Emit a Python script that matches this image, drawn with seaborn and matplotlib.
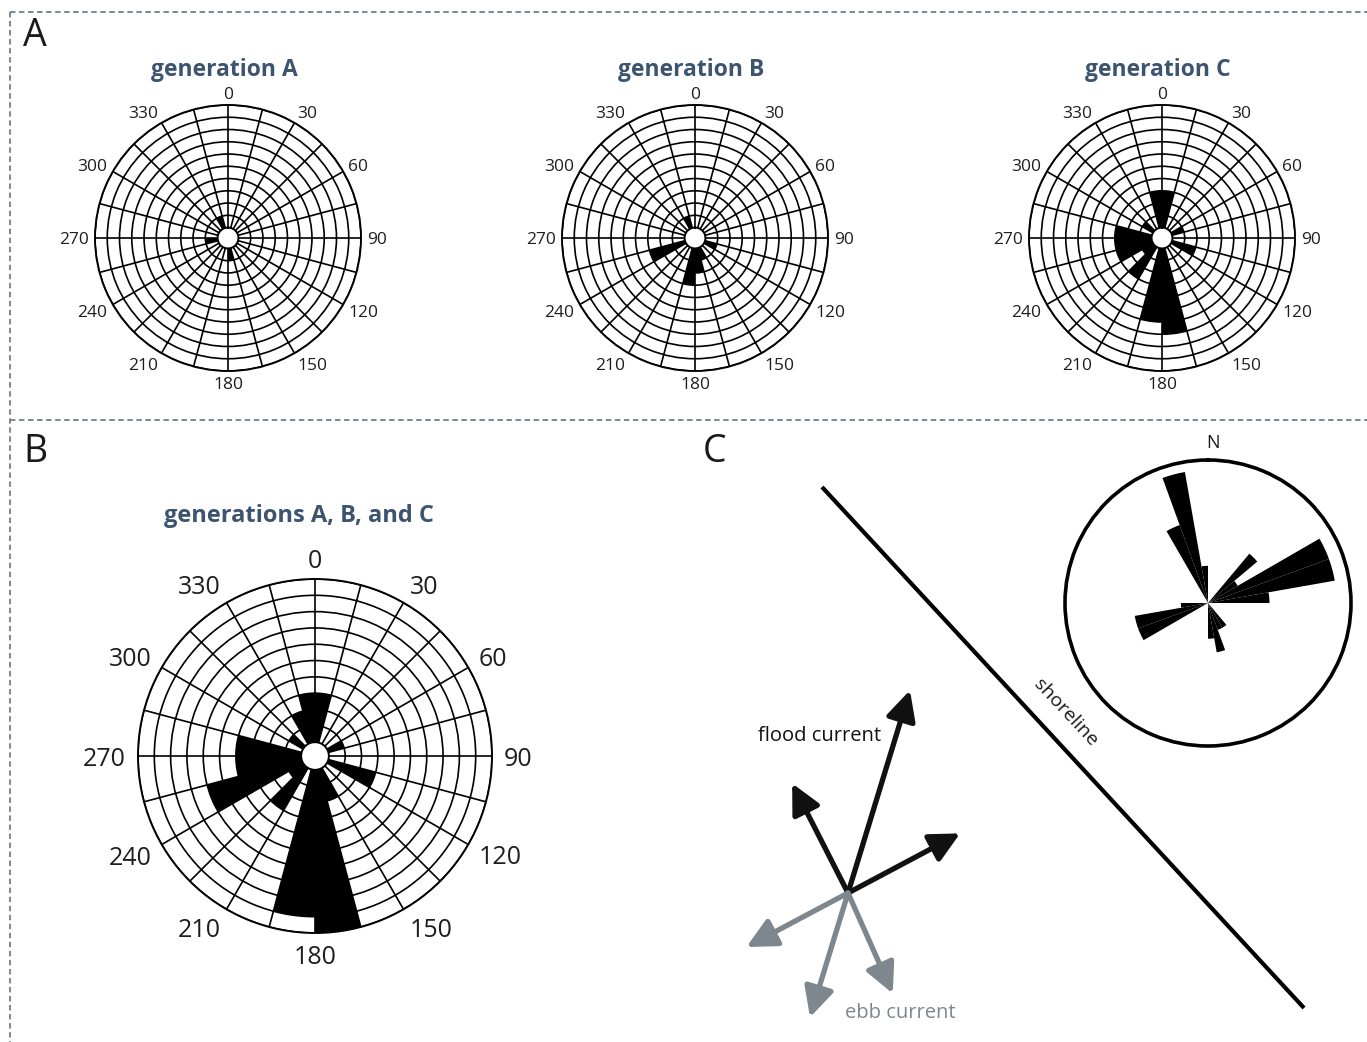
import numpy as np
import matplotlib.pyplot as plt
import seaborn as sns

sns.set_theme(style="white")
plt.rcParams['font.family'] = ['Open Sans', 'DejaVu Sans']

W, H = 1367, 1042

# %% data: 15-degree bins (start angle of each bin), counts per bin
bin_start = np.arange(0, 360, 15)
#          0  15 30 45 60 75 90 105 120 135 150 165 180 195 210 225 240 255 270 285 300 315 330 345
gen_a   = [0, 0, 0, 0, 0, 0, 0, 0,  0,  0,  0,  1,  0,  0,  0,  0,  0,  1,  0,  0,  0,  0,  1,  0]
gen_b   = [0, 0, 0, 0, 0, 0, 0, 1,  0,  0,  1,  2,  3,  0,  0,  0,  3,  0,  0,  0,  0,  0,  1,  0]
gen_c   = [3, 0, 0, 0, 1, 0, 0, 2,  0,  0,  0,  7,  6,  0,  3,  1,  3,  3,  3,  0,  1,  0,  0,  3]
gen_all = [3, 0, 0, 0, 1, 0, 0, 3,  0,  0,  2, 10,  9,  0,  3,  1,  6,  4,  4,  0,  1,  0,  2,  3]
deg_labels = np.arange(0, 360, 30)

# panel C rose: 10-degree bins, relative length
bin10 = np.arange(0, 360, 10)
rose_c = np.zeros(36)
rose_c[[4, 5, 6, 7, 8]] = [0.45, 0.24, 0.90, 0.90, 0.43]
rose_c[[14, 15, 16, 17]] = [0.20, 0.20, 0.35, 0.25]
rose_c[[24, 25, 26]] = [0.52, 0.52, 0.19]
rose_c[[33, 34, 35]] = [0.58, 0.93, 0.26]

# current directions (azimuth, length in px)
flood_az = [17, 333, 62]
flood_len = [212, 123, 127]
ebb_az = [242, 197, 156]
ebb_len = [115, 130, 110]
arrow_origin = (848, 893)
shoreline_x = [822, 1304]
shoreline_y = [487, 1008]

HOLE = 0.85
title_col = '#3d5470'
dash_col = '#6f7f90'


def place(cx, cy, r):
    return [(cx - r) / W, (H - cy - r) / H, 2 * r / W, 2 * r / H]


def rose(ax, counts):
    ax.set_theta_zero_location('N')
    ax.set_theta_direction(-1)
    ax.bar(np.deg2rad(bin_start + 7.5), counts, width=np.deg2rad(15),
           bottom=0, color='black', linewidth=0, zorder=3)
    ax.set_ylim(0, 10)
    ax.set_rorigin(-HOLE)
    ax.set_yticks(np.arange(1, 11))
    ax.set_yticklabels([])
    ax.set_xticks(np.deg2rad(bin_start))
    ax.set_xticklabels([])
    ax.grid(True, color='black', lw=1.2)
    for s in ax.spines.values():
        s.set_color('black')
        s.set_linewidth(1.4)
    ax.set_facecolor('white')


def degree_labels(cx, cy, r, gap, size, dy):
    h = size * 100 / 72 * 0.72
    for a in deg_labels:
        s, c = np.sin(np.deg2rad(a)), np.cos(np.deg2rad(a))
        x = cx + (r + gap) * s
        y = cy - (r + gap) * c - h / 2 * c + dy
        ha = 'left' if s > 0.1 else ('right' if s < -0.1 else 'center')
        ov.text(x, y, str(a), fontsize=size, ha=ha, va='center', color='#1e1e1e')


fig = plt.figure(figsize=(W / 100, H / 100), dpi=100)
fig.patch.set_facecolor('white')

# overlay axes in pixel coordinates
ov = fig.add_axes([0, 0, 1, 1])
ov.set_xlim(0, W)
ov.set_ylim(H, 0)
ov.axis('off')

# dashed frame
ov.plot([10, W], [12, 12], ls=(0, (3, 2)), color=dash_col, lw=1.3)
ov.plot([10, W], [420, 420], ls=(0, (3, 2)), color=dash_col, lw=1.3)
ov.plot([10, 10], [12, H], ls=(0, (3, 2)), color=dash_col, lw=1.3)

# panel letters
for letter, x, y in [('A', 35, 36), ('B', 35, 452), ('C', 715, 452)]:
    ov.text(x, y, letter, fontsize=27, ha='center', va='center', color='#1a1a1a')

# panel A roses
for counts, cx, name in [(gen_a, 228, 'generation A'), (gen_b, 695, 'generation B'),
                         (gen_c, 1162, 'generation C')]:
    ax = fig.add_axes(place(cx, 238, 133), projection='polar')
    rose(ax, counts)
    degree_labels(cx, 238, 133, 6, 12.5, 2)
    ov.text(cx - 4, 70, name, fontsize=16.5, fontweight='bold', color=title_col,
            ha='center', va='center')

# panel B
axb = fig.add_axes(place(315, 756, 177), projection='polar')
rose(axb, gen_all)
degree_labels(315, 756, 177, 12, 18, 3)
ov.text(299, 516, 'generations A, B, and C', fontsize=17, fontweight='bold',
        color=title_col, ha='center', va='center')

# panel C: shoreline
ov.plot(shoreline_x, shoreline_y, color='black', lw=3, solid_capstyle='butt')
ov.text(1066, 713, 'shoreline', rotation=-47, fontsize=14, ha='center', va='center',
        color='#1a1a1a')

# panel C rose
axc = fig.add_axes(place(1208, 603, 143), projection='polar')
axc.set_theta_zero_location('N')
axc.set_theta_direction(-1)
axc.bar(np.deg2rad(bin10 + 5), rose_c, width=np.deg2rad(10), color='black', linewidth=0)
axc.set_ylim(0, 1)
axc.set_xticks([])
axc.set_yticks([])
axc.grid(False)
axc.spines['polar'].set_linewidth(2.6)
axc.spines['polar'].set_color('black')
ov.text(1213, 443, 'N', fontsize=13, ha='center', va='center', color='#1a1a1a')

# current arrows
x0, y0 = arrow_origin
for az_list, len_list, col in [(flood_az, flood_len, '#111111'), (ebb_az, ebb_len, '#7d878d')]:
    for az, ln in zip(az_list, len_list):
        a = np.deg2rad(az)
        x1, y1 = x0 + ln * np.sin(a), y0 - ln * np.cos(a)
        ov.annotate('', xy=(x1, y1), xytext=(x0, y0),
                    arrowprops=dict(arrowstyle='-|>,head_length=0.9,head_width=0.45',
                                    lw=3.8, color=col, shrinkA=0, shrinkB=0,
                                    mutation_scale=20))
ov.text(820, 736, 'flood current', fontsize=14.5, ha='center', va='center', color='#111111')
ov.text(900, 1013, 'ebb current', fontsize=14.5, ha='center', va='center', color='#7d878d')

fig.savefig('out.png', dpi=100, facecolor='white')
